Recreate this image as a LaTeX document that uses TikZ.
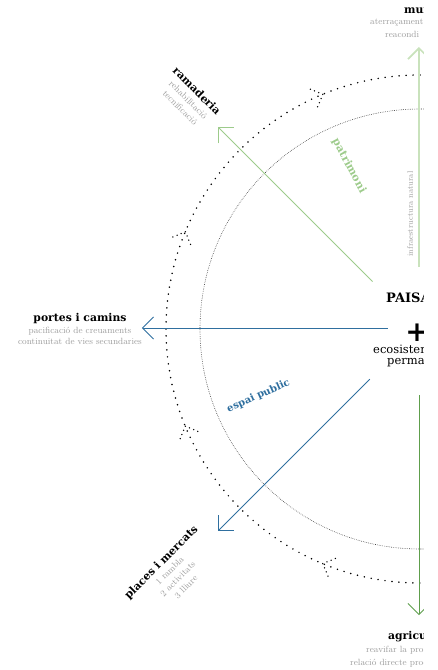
\documentclass[tikz,border=0pt]{standalone}
\usepackage{fontspec}
\newfontfamily\headfont{DejaVu Serif}
\usetikzlibrary{arrows.meta}
\definecolor{patGreen}{HTML}{9DCB8B}
\definecolor{natGreen}{HTML}{C9E2BC}
\definecolor{agrGreen}{HTML}{5E9E4C}
\definecolor{espBlue}{HTML}{2F6F9F}
\definecolor{subGray}{HTML}{9C9C9C}
\newcommand\ttlfont{\color{black}\headfont\bfseries\fontsize{10.8}{12}\selectfont}

\begin{document}
\begin{tikzpicture}[x=1pt,y=1pt,every node/.style={inner sep=0pt}]
  \tikzset{ttl/.style={font=\headfont\bfseries\fontsize{10.8}{12}\selectfont},
    sub/.style={font=\fontsize{9}{11.5}\selectfont,text=subGray},
    lbl/.style={align=center,font=\fontsize{9}{11.5}\selectfont,text=subGray},
    ar/.style={-{Straight Barb[length=11pt,width=22pt]},line width=0.8pt},
    bigdots/.style={line width=1.7pt,line cap=round,dash pattern=on 0pt off 7pt}}
  \useasboundingbox (-420,-341) rectangle (17,329);
  \clip (-420,-341) rectangle (4,329);

  % circles round the centre
  \coordinate (c) at (0,0);
  \draw[bigdots] (c) circle (254);
  \draw[black!80,line width=0.6pt,dash pattern=on 0.6pt off 1.2pt] (c) circle (220);
  \foreach \a [count=\i] in {112.5,157.5,202.5,247.5}{
    \coordinate (t\i) at (\a:254);
    \draw[line width=1.5pt,line cap=round,dash pattern=on 0pt off 4.5pt]
      (t\i) -- ++(\a+135:17) (t\i) -- ++(\a+45:17);
  }

  % arrows
  \coordinate (patS) at (135:67);  \coordinate (patE) at (135:285);
  \coordinate (natS) at (-1,62);   \coordinate (natE) at (-1,282);
  \coordinate (porS) at (-32,1);   \coordinate (porE) at (-278,1);
  \coordinate (plaS) at (225:71);  \coordinate (plaE) at (225:286);
  \coordinate (agrS) at (-1,-66);  \coordinate (agrE) at (-1,-286);
  \draw[ar,patGreen] (patS) -- (patE);
  \draw[-{Straight Barb[length=11pt,width=22pt,line width=1.6pt]},natGreen,line width=2.6pt] (natS) -- (natE);
  \draw[ar,espBlue] (porS) -- (porE);
  \draw[ar,espBlue] (plaS) -- (plaE);
  \draw[ar,agrGreen] (agrS) -- (agrE);

  % centre
  \node[ttl,font=\headfont\bfseries\fontsize{13}{14}\selectfont,anchor=west] (pai) at (-34,31) {PAISA};
  \node[font=\headfont\bfseries\fontsize{28}{28}\selectfont] (plus) at (-3,-4) {+};
  \node[font=\headfont\fontsize{11.5}{13}\selectfont,anchor=west] (eco) at (-47,-20) {ecosistem};
  \node[font=\headfont\fontsize{11.5}{13}\selectfont,anchor=west] (per) at (-33,-34) {permac};

  % labels round the circle
  \node[ttl,anchor=west] (mun) at (-16,318) {mun};
  \node[sub,anchor=west] (ate) at (-50,306) {aterraçament};
  \node[sub,anchor=west] (rea) at (-35,295) {reacondi};
  \node[lbl,rotate=-45] (ram) at (-231,230) {\ttlfont ramaderia\\rehabilitació\\tecnificació};
  \node[lbl] (por) at (-340,0) {\ttlfont portes i camins\\pacificació de creuaments\\continuitat de vies secundaries};
  \node[lbl,rotate=45] (pla) at (-247,-245) {\ttlfont places i mercats\\1 rambla\\2 activitats\\3 lliure};
  \node[ttl,anchor=west] (agr) at (-32,-308) {agricu};
  \node[sub,anchor=west] (rvf) at (-54,-321) {reavifar la proc};
  \node[sub,anchor=west] (rel) at (-70,-334) {relació directe prod};

  % axis names
  \node[ttl,text=patGreen,rotate=-62] (pat) at (-71,163) {patrimoni};
  \node[ttl,text=espBlue,font=\headfont\bfseries\fontsize{10}{12}\selectfont,rotate=24] (esp) at (-161.5,-67) {espai public};
  \node[sub,font=\fontsize{8}{10}\selectfont,rotate=90] (inf) at (-10,115) {infraestructura natural};
\end{tikzpicture}
\end{document}
